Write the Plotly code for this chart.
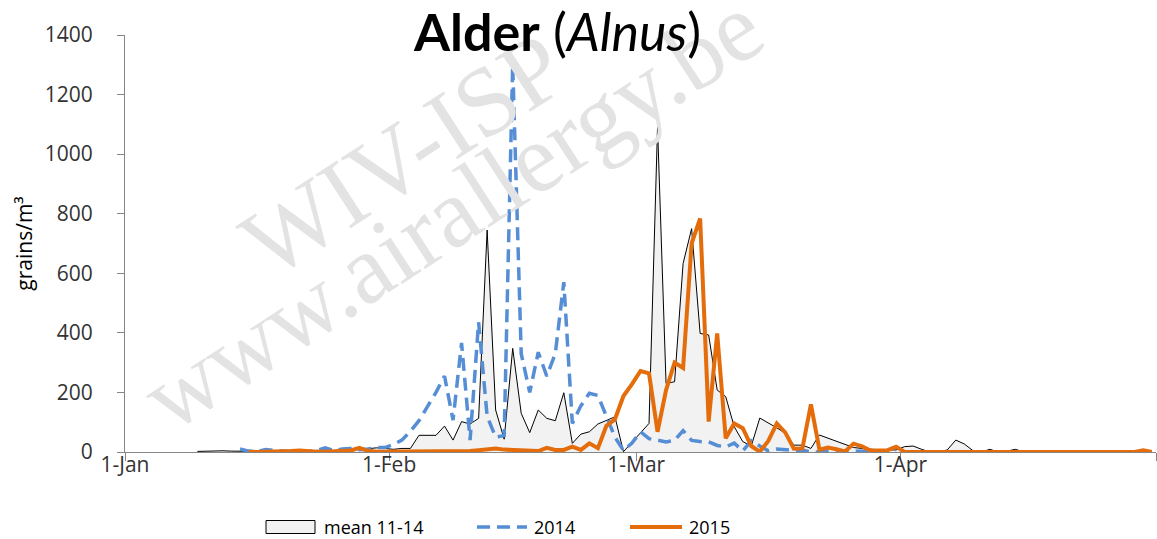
import pandas as pd
import plotly.graph_objects as go

# daily pollen counts, 1 Jan - 30 Apr (index 0 = 1 Jan), None = no data
days = pd.date_range("2016-01-01 12:00", periods=121, freq="D")

mean_11_14 = [None] * 8 + [
    2, 3, 5, 4, 3, 2, 3, 2, 4, 3, 2, 3, 4, 5, 4, 6, 5, 8, 9, 8,          # d8-27
    11, 14, 12, 9, 12, 12, 56, 56, 56, 87, 40, 102, 94, 113, 745, 141,   # d28-43
    43, 348, 130, 65, 141, 113, 105, 199, 29, 60, 68, 94, 107, 118, 1,   # d44-58
    32, 65, 96, 1092, 230, 236, 633, 750, 398, 393, 208, 186, 85, 35,    # d59-72
    20, 114, 98, 81, 63, 23, 23, 12, 57, 46, 35, 24, 15, 12, 9, 7, 7,    # d73-89
    7, 18, 20, 9, 0, 0, 7, 40, 27, 5, 0, 9, 0, 3, 9,                     # d90-104
] + [0] * 16

pollen_2014 = [None] * 13 + [
    10, 3, 2, 8, 5, 3, 2, 3, 2, 5, 14, 5, 10, 12, 8,                     # d13-27
    10, 15, 15, 25, 40, 70, 105, 150, 200, 255, 107, 366, 40, 436, 120,  # d28-42
    50, 55, 1300, 330, 200, 335, 255, 330, 570, 96, 155, 197, 190, 120,  # d43-56
    50, 5, 30, 68, 45, 40, 34, 39, 72, 39, 35, 34, 22, 17, 30, 3, 38,    # d57-73
    20, 4, 10, 8, 5, 6, 0, 0, 3, 2, 3, 2, 4, 3, 4, 2, 0,                 # d74-90
] + [None] * 30

pollen_2015 = [None] * 14 + [
    0, 2, 1, 2, 1, 3, 5, 2, 1, 1, 2, 3, 5, 14, 4, 1, 1, 1, 0, 0, 0, 0,   # d14-35
    1, 1, 2, 2, 3, 6, 10, 12, 8, 7, 5, 3, 3, 14, 7, 7, 18, 7, 29, 13,    # d36-55
    88, 110, 188, 228, 272, 264, 68, 208, 300, 282, 700, 784, 102, 398,  # d56-69
    46, 96, 80, 20, 1, 37, 96, 65, 11, 12, 160, 8, 15, 9, 2, 28, 19,     # d70-86
    5, 6, 6, 18,                                                         # d87-90
] + [0] * 28 + [6, 0]

tick_dates = ["2016-01-01", "2016-02-01", "2016-03-01", "2016-04-01", "2016-05-01"]
tick_labels = ["1-Jan", "1-Feb", "1-Mar", "1-Apr", ""]

FONT = "Open Sans"
AXIS_GREY = "#868686"
TEXT = "#333333"
BLUE = "#558ed5"
ORANGE = "#e46c0a"
FILL = "#f2f2f2"

# plot area in pixels (used to place the legend / title in paper coords)
L, R, T, B = 125, 1156, 35, 452


def px(x):
    return (x - L) / (R - L)


def py(y):
    return (B - y) / (B - T)


fig = go.Figure()

fig.add_trace(go.Scatter(
    x=days, y=mean_11_14, name="mean 11-14",
    mode="lines", fill="tozeroy", fillcolor=FILL,
    line=dict(color="black", width=1),
))
fig.add_trace(go.Scatter(
    x=days, y=pollen_2014, name="2014",
    mode="lines", line=dict(color=BLUE, width=3.5, dash="13px,7px"),
))
fig.add_trace(go.Scatter(
    x=days, y=pollen_2015, name="2015",
    mode="lines", line=dict(color=ORANGE, width=4),
))

# watermark
for text, cx, cy in [("WIV-ISP", 403, 155), ("www.airallergy.be", 452, 212)]:
    fig.add_annotation(
        text=text, x=px(cx), y=py(cy), xref="paper", yref="paper", showarrow=False,
        xanchor="center", yanchor="middle",
        textangle=-33, font=dict(family="Liberation Serif", size=98, color="#e3e3e3"),
    )

# title
fig.add_annotation(
    text="<b>Alder</b> (<i>Alnus</i>)", x=px(557), y=py(31), xref="paper", yref="paper",
    showarrow=False, xanchor="center", yanchor="middle",
    font=dict(family="Lato", size=52, color="black"),
)

# legend drawn below the axis, Excel style (box swatch for the area series)
leg_y = 527
fig.add_shape(type="rect", xref="paper", yref="paper",
              x0=px(266), x1=px(315), y0=py(leg_y - 6.5), y1=py(leg_y + 6.5),
              fillcolor=FILL, line=dict(color="black", width=1))
fig.add_shape(type="line", xref="paper", yref="paper",
              x0=px(477), x1=px(527), y0=py(leg_y), y1=py(leg_y),
              line=dict(color=BLUE, width=3.5, dash="13px,7px"))
fig.add_shape(type="line", xref="paper", yref="paper",
              x0=px(630), x1=px(682), y0=py(leg_y), y1=py(leg_y),
              line=dict(color=ORANGE, width=4))
for text, lx in [("mean 11-14", 322), ("2014", 532), ("2015", 687)]:
    fig.add_annotation(
        text=text, x=px(lx), y=py(leg_y), xref="paper", yref="paper",
        showarrow=False, xanchor="left", yanchor="middle",
        font=dict(family=FONT, size=18, color="black"),
    )

fig.update_layout(
    width=1157, height=539,
    margin=dict(l=L, r=1157 - R, t=T, b=539 - B, autoexpand=False),
    paper_bgcolor="white", plot_bgcolor="white",
    font=dict(family=FONT, size=20, color=TEXT),
    showlegend=False,
    xaxis=dict(
        type="date", range=["2016-01-01", "2016-05-01"],
        tickvals=tick_dates, ticktext=tick_labels,
        showgrid=False, zeroline=False, automargin=False,
        showline=True, linecolor=AXIS_GREY, linewidth=1,
        ticks="outside", ticklen=8, tickcolor=AXIS_GREY,
        tickfont=dict(size=21), ticklabelstandoff=-14,
    ),
    yaxis=dict(
        range=[0, 1400], dtick=200,
        showgrid=False, zeroline=False, automargin=False,
        showline=True, linecolor=AXIS_GREY, linewidth=1,
        ticks="outside", ticklen=7, tickcolor=AXIS_GREY,
        tickfont=dict(size=21), ticklabelstandoff=20,
        title=dict(text="grains/m³", font=dict(size=21, color="black"), standoff=6),
    ),
)

# page body has a default 8px margin; remove it so the figure fills the window
fig.write_html(
    "out.html",
    config={"displayModeBar": False},
    post_script="document.body.style.margin='0';",
)
